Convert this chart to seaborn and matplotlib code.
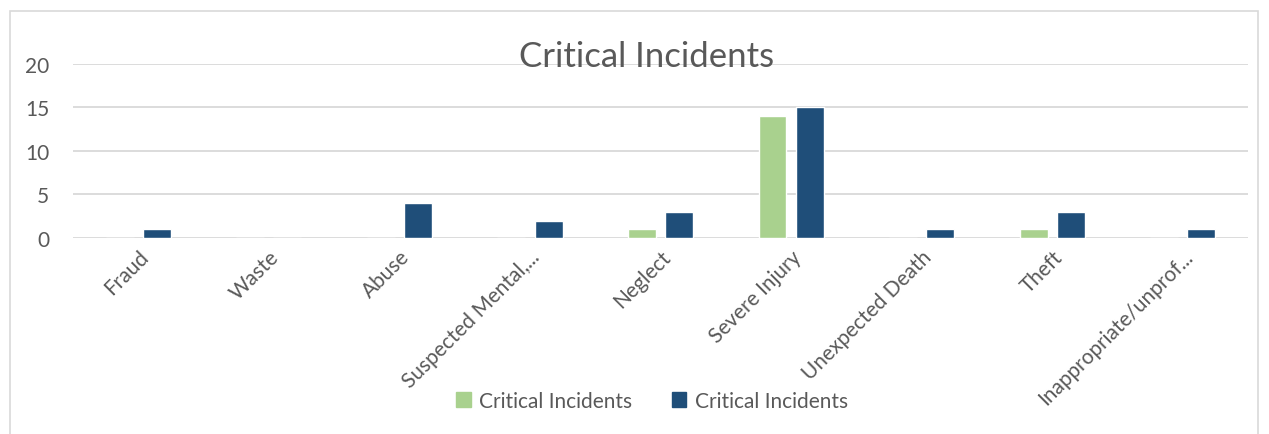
import pandas as pd
import seaborn as sns
from matplotlib import pyplot as plt
from matplotlib.patches import Rectangle

# chart data
categories = ['Fraud', 'Waste', 'Abuse', 'Suspected Mental,...', 'Neglect',
              'Severe Injury', 'Unexpected Death', 'Theft', 'Inappropriate/unprof...']
series_a = [0, 0, 0, 0, 1, 14, 0, 1, 0]
series_b = [1, 0, 4, 2, 3, 15, 1, 3, 1]
series_labels = ['Critical Incidents', 'Critical Incidents']
colors = ['#a9d18e', '#1f4e79']

df = pd.DataFrame({
    'category': categories * 2,
    'value': series_a + series_b,
    'series': ['s1'] * len(categories) + ['s2'] * len(categories),
})

sns.set_style('white')
plt.rcParams['font.family'] = ['Lato', 'DejaVu Sans']
text_gray = '#595959'
grid_gray = '#d9d9d9'

fig = plt.figure(figsize=(12.69, 4.35), dpi=100)
ax = fig.add_axes([0.0575, 0.4506, 0.926, 0.40])

sns.barplot(data=df, x='category', y='value', hue='series', palette=colors,
            width=0.57, gap=0.25, ax=ax, legend=False, saturation=1)

ax.set_ylim(0, 20)
ax.set_xlim(-0.5, len(categories) - 0.5)
ax.set_yticks([0, 5, 10, 15, 20])
ax.yaxis.grid(True, color=grid_gray, linewidth=1.3)
ax.set_axisbelow(True)
for s in ax.spines.values():
    s.set_visible(False)
ax.tick_params(axis='both', length=0, colors=text_gray, labelsize=15)
ax.tick_params(axis='y', pad=17)
ax.tick_params(axis='x', pad=6)
ax.set_xlabel('')
ax.set_ylabel('')
ax.set_xticks(range(len(categories)))
ax.set_xticklabels(categories, rotation=45, ha='right', rotation_mode='anchor')

fig.text(647 / 1269, 1 - 57 / 435, 'Critical Incidents', ha='center', va='center',
         fontsize=25, color=text_gray)

handles = [Rectangle((0, 0), 1, 1, color=c) for c in colors]
fig.legend(handles, series_labels, loc='center', bbox_to_anchor=(652 / 1269, 1 - 402 / 435),
           ncol=2, frameon=False, fontsize=15, labelcolor=text_gray,
           handlelength=0.7, handleheight=0.7, columnspacing=1.9, handletextpad=0.4)

fig.patches.append(Rectangle((10 / 1269, -0.05), 1248 / 1269, 1 - 12 / 435 + 0.05,
                             transform=fig.transFigure, fill=False,
                             edgecolor=grid_gray, linewidth=1.2))

fig.savefig('out.png', dpi=100)
